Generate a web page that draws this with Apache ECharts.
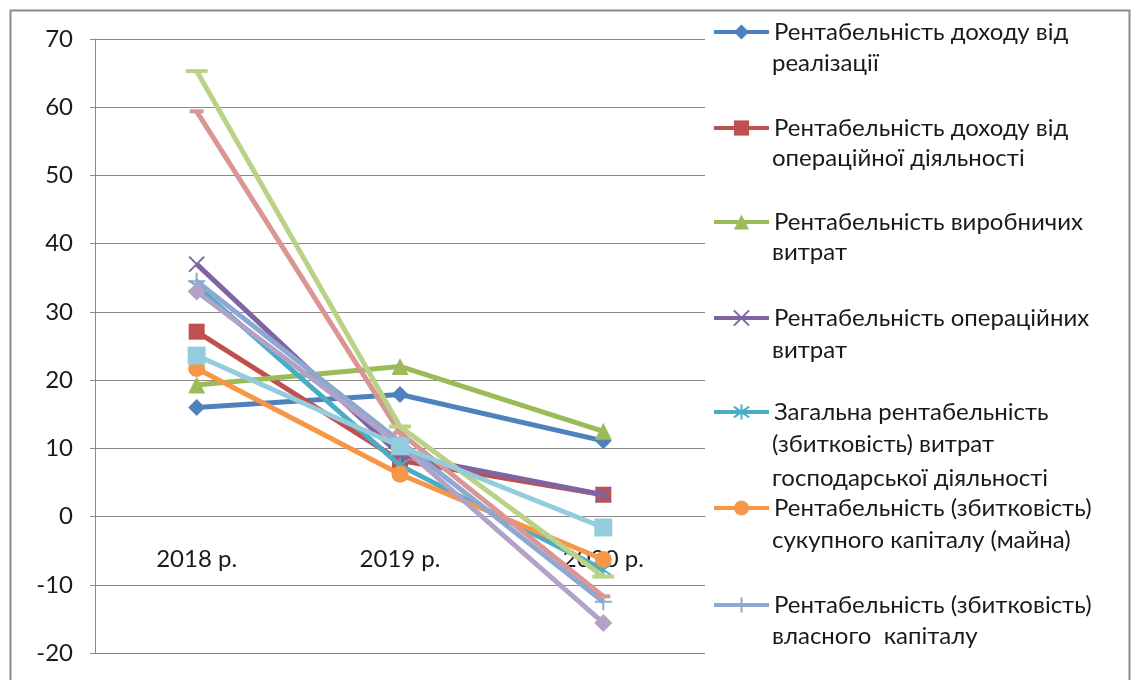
<!DOCTYPE html>
<html>
<head>
<meta charset="utf-8">
<script src="https://cdn.jsdelivr.net/npm/echarts@6/dist/echarts.min.js"></script>
<style>
html,body{margin:0;padding:0;background:#fff;}
#chart{width:1132px;height:680px;}
</style>
</head>
<body>
<div id="chart"></div>
<script>
// ---- data ----
const categories = ['2018 р.', '2019 р.', '2020 р.'];
const yTicks = { min: -20, max: 70, interval: 10 };

const seriesNames = [
  'Рентабельність доходу від\nреалізації',
  'Рентабельність доходу від\nопераційної діяльності',
  'Рентабельність виробничих\nвитрат',
  'Рентабельність операційних\nвитрат',
  'Загальна рентабельність\n(збитковість) витрат\nгосподарської діяльності',
  'Рентабельність (збитковість)\nсукупного капіталу (майна)',
  'Рентабельність (збитковість)\nвласного  капіталу',
  'Ряд8',
  'Ряд9',
  'Ряд10',
  'Ряд11'
];

const s1 = [16.0, 17.9, 11.1];
const s2 = [27.1, 8.2, 3.2];
const s3 = [19.3, 22.0, 12.5];
const s4 = [37.0, 9.0, 3.2];
const s5 = [33.8, 7.5, -7.8];
const s6 = [21.7, 6.2, -6.3];
const s7 = [34.5, 11.0, -12.5];
const s8 = [59.4, 12.3, -11.7];
const s9 = [65.3, 13.2, -8.8];
const s10 = [33.0, 10.5, -15.6];
const s11 = [23.6, 10.3, -1.6];
const seriesValues = [s1, s2, s3, s4, s5, s6, s7, s8, s9, s10, s11];

// ---- styling ----
const colors = ['#4F81BD', '#C0504D', '#9BBB59', '#8064A2', '#4BACC6', '#F79646',
                '#8EA8D4', '#D99694', '#B9D286', '#B3A2C7', '#93CDDD'];
const XPATH = 'path://M0,0L10,10M10,0L0,10';
const STARPATH = 'path://M1.5,1.5L8.5,8.5M8.5,1.5L1.5,8.5M5,0L5,10';
const PLUSPATH = 'path://M5,0L5,10M0,5L10,5';
const symbols = [
  { symbol: 'diamond', size: 17, stroke: false },
  { symbol: 'rect', size: 16, stroke: false },
  { symbol: 'triangle', size: 17, stroke: false },
  { symbol: XPATH, size: 15, stroke: true },
  { symbol: STARPATH, size: 15, stroke: true },
  { symbol: 'circle', size: 17, stroke: false },
  { symbol: PLUSPATH, size: 17, stroke: true },
  { symbol: 'rect', size: [14, 4], stroke: false },
  { symbol: 'rect', size: [22, 4], stroke: false },
  { symbol: 'diamond', size: 18, stroke: false },
  { symbol: 'rect', size: 18, stroke: false }
];

const series = seriesValues.map((vals, i) => ({
  name: seriesNames[i],
  type: 'line',
  data: vals,
  symbol: symbols[i].symbol,
  symbolSize: symbols[i].size,
  symbolKeepAspect: false,
  showAllSymbol: true,
  lineStyle: { color: colors[i], width: 5 },
  itemStyle: {
    color: colors[i],
    borderColor: colors[i],
    borderWidth: symbols[i].stroke ? 2 : 0,
    opacity: 1
  },
  emphasis: { disabled: true },
  animation: false,
  z: 2 + i
}));

// legend: first line is legend text, remaining lines as graphic text
const legendRows = [32, 128, 222, 318, 412, 508, 605];
const contLines = [[63], [158], [252], [350], [444, 478], [540], [636]];
const LEG_FONT = 'Lato, "Noto Sans", sans-serif';
const LEG_SIZE = 24;

const legends = legendRows.map((y, i) => ({
  data: [seriesNames[i]],
  left: 712,
  top: y - 15,
  padding: 0,
  orient: 'vertical',
  itemWidth: 55,
  itemHeight: 19,
  selectedMode: false,
  lineStyle: { width: 4 },
  formatter: (n) => n.split('\n')[0],
  textStyle: { fontFamily: LEG_FONT, fontSize: LEG_SIZE, color: '#1a1a1a', lineHeight: 30 }
}));

const graphics = [
  {
    type: 'rect', left: 8, top: 8, z: 100, silent: true,
    shape: { width: 1119, height: 700 },
    style: { fill: 'none', stroke: '#8a8a8a', lineWidth: 2 }
  }
];
contLines.forEach((ys, i) => {
  const lines = seriesNames[i].split('\n').slice(1);
  lines.forEach((t, k) => {
    graphics.push({
      type: 'text', x: 772, y: ys[k], silent: true,
      style: { text: t, fontFamily: LEG_FONT, fontSize: LEG_SIZE, fill: '#1a1a1a',
               verticalAlign: 'middle' }
    });
  });
});

const GRID_TOP = 39, GRID_BOTTOM = 27, H = 680;
const plotH = H - GRID_TOP - GRID_BOTTOM;
const zeroOffset = -plotH * (0 - yTicks.min) / (yTicks.max - yTicks.min);

const chart = echarts.init(document.getElementById('chart'), null, { renderer: 'canvas' });
chart.setOption({
  animation: false,
  backgroundColor: '#ffffff',
  grid: { left: 95, right: 427, top: GRID_TOP, bottom: GRID_BOTTOM, containLabel: false, outerBoundsMode: 'none' },
  legend: legends,
  graphic: graphics,
  tooltip: { show: false },
  xAxis: {
    type: 'category',
    data: categories,
    boundaryGap: true,
    offset: zeroOffset,
    axisLine: { onZero: false, lineStyle: { color: '#8a8a8a', width: 1 } },
    axisTick: { show: false },
    axisLabel: { margin: 31, fontFamily: LEG_FONT, fontSize: 24, color: '#1a1a1a' },
    splitLine: { show: false }
  },
  yAxis: {
    type: 'value',
    min: yTicks.min, max: yTicks.max, interval: yTicks.interval,
    axisLine: { show: true, lineStyle: { color: '#8a8a8a', width: 1 } },
    axisTick: { show: true, length: 5, lineStyle: { color: '#8a8a8a' } },
    axisLabel: { margin: 22, fontFamily: LEG_FONT, fontSize: 24, color: '#1a1a1a' },
    splitLine: { show: true, lineStyle: { color: '#8a8a8a', width: 1 } }
  },
  series: series
});
</script>
</body>
</html>
